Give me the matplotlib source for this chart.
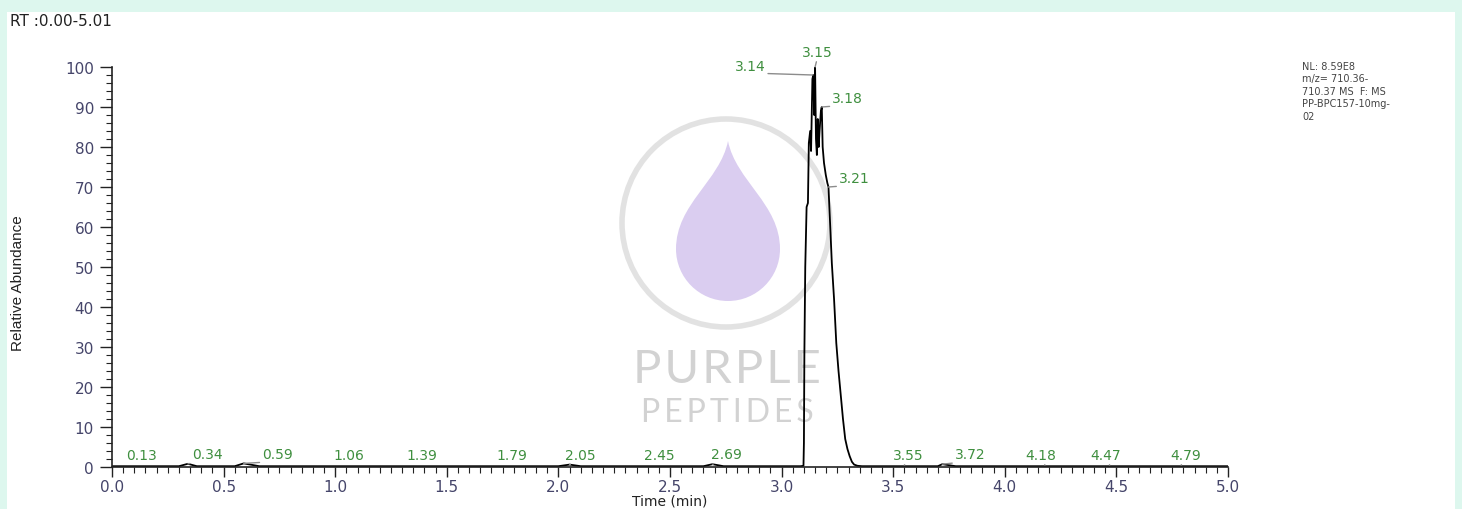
import numpy as np
import matplotlib
matplotlib.use("Agg")
import matplotlib.pyplot as plt
from matplotlib.patches import Rectangle, Circle, PathPatch
from matplotlib.path import Path
from matplotlib.ticker import MultipleLocator

# chromatogram trace (retention time, relative abundance)
trace_rt = [0.00, 0.30, 0.34, 0.38, 0.55, 0.59, 0.66, 2.00, 2.05, 2.10, 2.65, 2.69, 2.74, 3.085,
            3.098, 3.100, 3.102, 3.106, 3.112, 3.118, 3.122, 3.128, 3.132, 3.138, 3.142, 3.146,
            3.150, 3.154, 3.158, 3.162, 3.166, 3.170, 3.176, 3.180, 3.184, 3.190, 3.198, 3.205,
            3.210, 3.218, 3.225, 3.235, 3.245, 3.255, 3.265, 3.275, 3.285, 3.295, 3.305, 3.315,
            3.325, 3.340, 3.360, 3.70, 3.72, 3.78, 5.00]
trace_ab = [0.2, 0.2, 0.8, 0.2, 0.2, 0.9, 0.2, 0.2, 0.6, 0.2, 0.2, 0.7, 0.2, 0.2,
            0.3, 6, 28, 50, 65, 66, 81, 84, 79, 97, 98, 88,
            100, 82, 78, 87, 80, 84, 89, 90, 80, 76, 73, 71,
            70, 60, 51, 42, 31, 24, 18, 12, 7, 4.5, 2.7, 1.3,
            0.6, 0.3, 0.2, 0.2, 0.7, 0.2, 0.2]

# labelled peaks
peak_rt = [0.13, 0.34, 0.59, 1.06, 1.39, 1.79, 2.05, 2.45, 2.69,
           3.14, 3.15, 3.18, 3.21, 3.55, 3.72, 4.18, 4.47, 4.79]
peak_ab = [0.5, 0.8, 0.9, 0.5, 0.5, 0.5, 0.6, 0.5, 0.7,
           98, 100, 90, 70, 0.5, 0.7, 0.5, 0.5, 0.5]
# label offsets in pixels (style only)
label_dx = [0, 20, 34, 0, 0, 0, 11, 0, 14, -63, 2, 26, 26, 4, 28, -4, -4, 5]
label_dy = [3, 3, 2, 3, 3, 3, 3, 3, 3, 2, 8, 2, 2, 3, 3, 3, 3, 3]

info_text = "NL: 8.59E8\nm/z= 710.36-\n710.37 MS  F: MS\nPP-BPC157-10mg-\n02"

W, H = 1462, 510
fig = plt.figure(figsize=(W / 100, H / 100), dpi=100, facecolor="#ddf7ee")

# background panel + watermark
bg = fig.add_axes([0, 0, 1, 1], zorder=0)
bg.set_xlim(0, W)
bg.set_ylim(H, 0)
bg.axis("off")
bg.add_patch(Rectangle((7, 13), 1448, 500, facecolor="white", edgecolor="none"))
bg.add_patch(Circle((726, 224), 104, facecolor="none", edgecolor="#e2e2e2", lw=4))

cx, cy, r, tip = 728, 250, 52, 142
k = 0.5523 * r
verts = [(cx, tip),
         (cx + 8, tip + 40), (cx + r, cy - 45), (cx + r, cy),
         (cx + r, cy + k), (cx + k, cy + r), (cx, cy + r),
         (cx - k, cy + r), (cx - r, cy + k), (cx - r, cy),
         (cx - r, cy - 45), (cx - 8, tip + 40), (cx, tip)]
codes = [Path.MOVETO] + [Path.CURVE4] * 12
bg.add_patch(PathPatch(Path(verts, codes), facecolor="#dacdf0", edgecolor="none"))
bg.text(727, 370, "P\u200aU\u200aR\u200aP\u200aL\u200aE", fontsize=34, color="#d2d2d2",
        ha="center", va="center", family="Lato")
bg.text(727, 413, "P\u2009E\u2009P\u2009T\u2009I\u2009D\u2009E\u2009S", fontsize=23, color="#d2d2d2",
        ha="center", va="center", family="Lato")

# main axes
ax = fig.add_axes([112 / W, 1 - 468 / H, 1116 / W, 400 / H], zorder=1)
ax.patch.set_alpha(0)
ax.plot(trace_rt, trace_ab, color="black", lw=1.3)

for rt, ab, dx, dy in zip(peak_rt, peak_ab, label_dx, label_dy):
    arrow = None
    if dx != 0 or ab > 50:
        arrow = dict(arrowstyle="-", color="#8c8c8c", lw=1, shrinkA=0, shrinkB=0, relpos=(0.5, 0))
    ax.annotate(f"{rt:.2f}", xy=(rt, ab), xytext=(dx, dy), textcoords="offset pixels",
                ha="center", va="bottom", fontsize=10, color="#3f8f3f",
                arrowprops=arrow, annotation_clip=False)

ax.set_xlim(0, 5.0)
ax.set_ylim(0, 100)
ax.xaxis.set_major_locator(MultipleLocator(0.5))
ax.xaxis.set_minor_locator(MultipleLocator(0.05))
ax.yaxis.set_major_locator(MultipleLocator(10))
ax.yaxis.set_minor_locator(MultipleLocator(2))
ax.xaxis.set_major_formatter(plt.FormatStrFormatter("%.1f"))
for s in ["top", "right"]:
    ax.spines[s].set_visible(False)
for s in ["left", "bottom"]:
    ax.spines[s].set_color("#222222")
    ax.spines[s].set_linewidth(1.2)
ax.tick_params(axis="y", which="major", length=9, width=1, color="#222222",
               labelsize=11, labelcolor="#45456a", pad=4)
ax.tick_params(axis="y", which="minor", length=4, width=0.8, color="#222222")
ax.tick_params(axis="x", which="major", length=7, width=1, color="#222222",
               labelsize=11, labelcolor="#45456a", pad=2)
ax.tick_params(axis="x", which="minor", length=4, width=0.8, color="#222222")

ax.set_xlabel("Time (min)", fontsize=10, color="#222222", labelpad=-1)
fig.text(18 / W, 1 - 283 / H, "Relative Abundance", rotation=90, fontsize=11,
         family="Liberation Sans", color="#222222", ha="center", va="center")
fig.text(10 / W, 1 - 21 / H, "RT :0.00-5.01", fontsize=11, color="#222222",
         ha="left", va="center")
fig.text(1302 / W, 1 - 62 / H, info_text, fontsize=7, color="#444444",
         ha="left", va="top", linespacing=1.3)

fig.savefig("out.png", dpi=100, facecolor=fig.get_facecolor())
